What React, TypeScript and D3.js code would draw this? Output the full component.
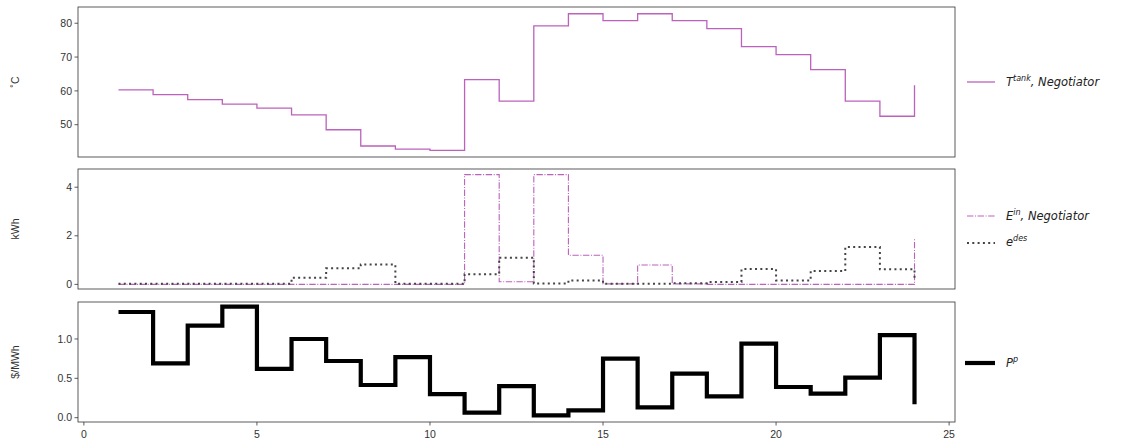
import React from "react";
import * as d3 from "d3";

const hours = [1,2,3,4,5,6,7,8,9,10,11,12,13,14,15,16,17,18,19,20,21,22,23,24];
const tankTemp = [60.3,58.9,57.4,56.1,54.9,52.9,48.5,43.7,42.8,42.4,63.3,57.0,79.2,82.8,80.8,82.8,80.8,78.4,73.1,70.7,66.3,57.0,52.5,61.7];
const energyIn = [0,0,0,0,0,0,0,0,0,0,4.52,0.11,4.52,1.2,0.02,0.8,0.02,0,0,0,0,0,0,1.92];
const energyDes = [0.03,0.03,0.03,0.03,0.03,0.27,0.66,0.82,0.03,0.03,0.42,1.1,0.04,0.16,0.03,0.03,0.05,0.1,0.63,0.16,0.55,1.54,0.62,0.27];
const price = [1.343,0.69,1.17,1.41,0.62,1.0,0.72,0.415,0.77,0.30,0.064,0.40,0.03,0.094,0.75,0.13,0.56,0.27,0.94,0.39,0.305,0.51,1.05,0.17];

const xTicks = [0,5,10,15,20,25];
const tempTicks = [50,60,70,80];
const energyTicks = [0,2,4];
const priceTicks = [0.0,0.5,1.0];

const W = 1122, H = 444;
const L = 78, R = 955;
const panels = [
  { top: 7, bottom: 157 },
  { top: 169, bottom: 289 },
  { top: 302, bottom: 422 },
];

const PURPLE = "#bb62bb";
const AX = "#333";
const TXT = "#333";
const TICKFONT = "Liberation Sans, Arial, sans-serif";

export default function App() {
  const x = d3.scaleLinear().domain([-0.17, 25.17]).range([L, R]);
  const yT = d3.scaleLinear().domain([40.45, 84.8]).range([panels[0].bottom, panels[0].top]);
  const yE = d3.scaleLinear().domain([-0.19, 4.75]).range([panels[1].bottom, panels[1].top]);
  const yP = d3.scaleLinear().domain([-0.055, 1.47]).range([panels[2].bottom, panels[2].top]);

  const mk = (ys: number[], y: d3.ScaleLinear<number, number>) =>
    d3.line<number>().x((_, i) => x(hours[i])).y((v) => y(v)).curve(d3.curveStepAfter)(ys) || "";

  const yAxis = (ticks: number[], y: d3.ScaleLinear<number, number>, fmt: (v: number) => string) =>
    ticks.map((t) => (
      <g key={t} transform={`translate(${L},${y(t)})`}>
        <line x1={-3.5} x2={0} stroke={AX} strokeWidth={0.8} />
        <text x={-6} dy="0.35em" textAnchor="end" fontSize={10.5} fill={TXT} fontFamily={TICKFONT}>{fmt(t)}</text>
      </g>
    ));

  const frame = (p: { top: number; bottom: number }, k: number) => (
    <rect key={k} x={L} y={p.top} width={R - L} height={p.bottom - p.top} fill="none" stroke={AX} strokeWidth={0.8} />
  );

  const legendFont = { fontSize: 11.5, fontStyle: "italic" as const, fill: "#222" };

  return (
    <svg width={W} height={H} style={{ position: "absolute", left: 0, top: 0, fontFamily: "DejaVu Sans, sans-serif" }}>
      <rect width={W} height={H} fill="#fff" />
      {/* top panel */}
      <path d={mk(tankTemp, yT)} fill="none" stroke={PURPLE} strokeWidth={1.3} />
      {yAxis(tempTicks, yT, (v) => String(v))}
      <text transform={`translate(19,${(panels[0].top + panels[0].bottom) / 2}) rotate(-90)`} textAnchor="middle" fontSize={10.5} fill={TXT} fontFamily={TICKFONT}>˚C</text>

      {/* middle panel */}
      <path d={mk(energyIn, yE)} fill="none" stroke={PURPLE} strokeWidth={1.1} strokeDasharray="6.4,1.6,1,1.6" />
      <path d={mk(energyDes, yE)} fill="none" stroke="#444" strokeWidth={2} strokeDasharray="2,3.3" />
      {yAxis(energyTicks, yE, (v) => String(v))}
      <text transform={`translate(19,${(panels[1].top + panels[1].bottom) / 2}) rotate(-90)`} textAnchor="middle" fontSize={10.5} fill={TXT} fontFamily={TICKFONT}>kWh</text>

      {/* bottom panel */}
      <path d={mk(price, yP)} fill="none" stroke="#000" strokeWidth={4.2} />
      {yAxis(priceTicks, yP, (v) => v.toFixed(1))}
      <text transform={`translate(19,${(panels[2].top + panels[2].bottom) / 2}) rotate(-90)`} textAnchor="middle" fontSize={10.5} fill={TXT} fontFamily={TICKFONT}>$/MWh</text>
      {xTicks.map((t) => (
        <g key={t} transform={`translate(${x(t)},${panels[2].bottom})`}>
          <line y1={0} y2={3.5} stroke={AX} strokeWidth={0.8} />
          <text y={16} textAnchor="middle" fontSize={10.5} fill={TXT} fontFamily={TICKFONT}>{t}</text>
        </g>
      ))}

      {panels.map(frame)}

      {/* legends */}
      <line x1={967} x2={995} y1={82} y2={82} stroke={PURPLE} strokeWidth={1.3} />
      <text x={1006} y={86} {...legendFont}>T<tspan dy={-5} fontSize={8}>tank</tspan><tspan dy={5}>, Negotiator</tspan></text>

      <line x1={967} x2={995} y1={216} y2={216} stroke={PURPLE} strokeWidth={1.1} strokeDasharray="6.4,1.6,1,1.6" />
      <text x={1006} y={220} {...legendFont}>E<tspan dy={-5} fontSize={8}>in</tspan><tspan dy={5}>, Negotiator</tspan></text>
      <line x1={967} x2={995} y1={243} y2={243} stroke="#444" strokeWidth={2} strokeDasharray="2,3.3" />
      <text x={1006} y={246} {...legendFont}>e<tspan dy={-5} fontSize={8}>des</tspan></text>

      <line x1={965} x2={995} y1={363} y2={363} stroke="#000" strokeWidth={4.2} />
      <text x={1006} y={367} {...legendFont}>P<tspan dy={-5} fontSize={8}>p</tspan></text>
    </svg>
  );
}
